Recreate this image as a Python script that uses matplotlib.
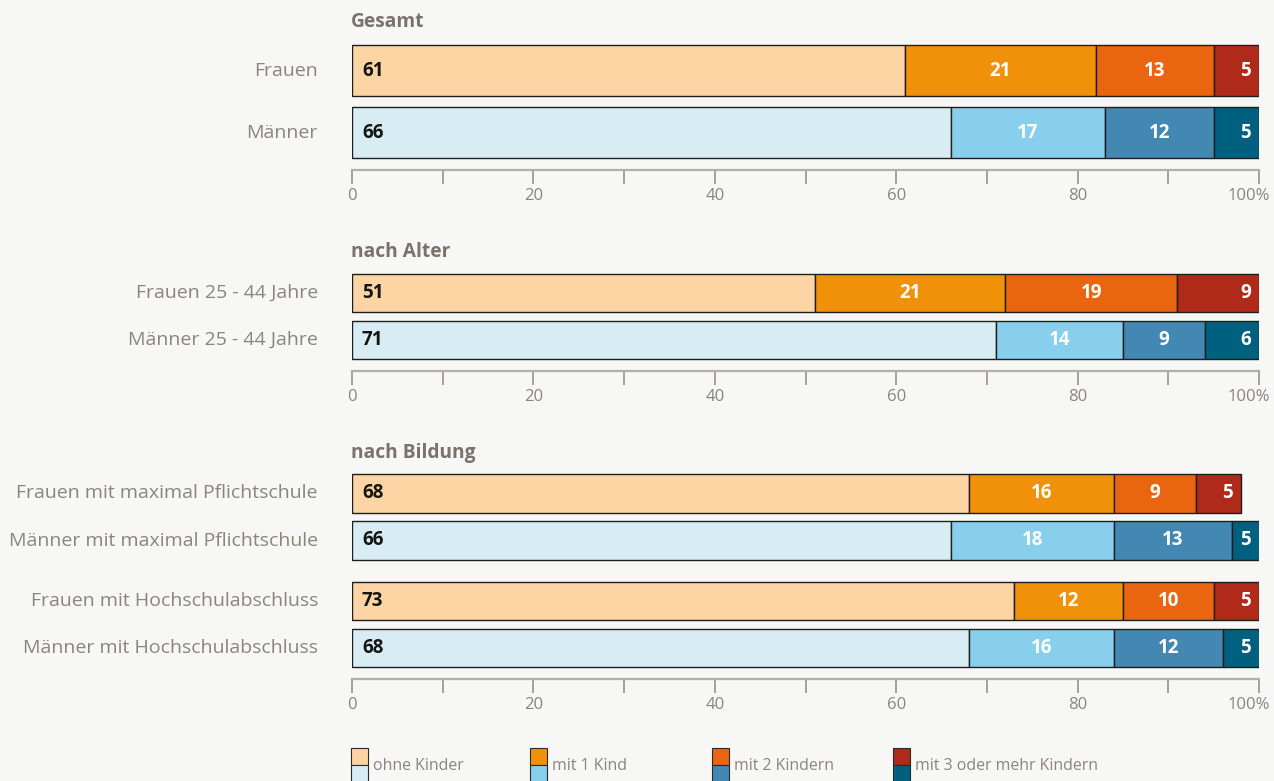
import matplotlib.pyplot as plt
from matplotlib.patches import Rectangle
from matplotlib.transforms import ScaledTranslation

plt.rcParams['font.family'] = ['Open Sans', 'DejaVu Sans']

# Anteile in % (ohne Kinder, mit 1 Kind, mit 2 Kindern, mit 3+ Kindern)
gesamt_labels = ["Frauen", "Männer"]
gesamt_values = [[61, 21, 13, 5],
                 [66, 17, 12, 5]]

alter_labels = ["Frauen 25 - 44 Jahre", "Männer 25 - 44 Jahre"]
alter_values = [[51, 21, 19, 9],
                [71, 14, 9, 6]]

bildung_labels = ["Frauen mit maximal Pflichtschule", "Männer mit maximal Pflichtschule",
                  "Frauen mit Hochschulabschluss", "Männer mit Hochschulabschluss"]
bildung_values = [[68, 16, 9, 5],
                  [66, 18, 13, 5],
                  [73, 12, 10, 5],
                  [68, 16, 12, 5]]

legend_labels = ["ohne Kinder", "mit 1 Kind", "mit 2 Kindern", "mit 3 oder mehr Kindern"]
ticks = [0, 20, 40, 60, 80, 100]
tick_labels = ["0", "20", "40", "60", "80", "100%"]

col_f = ["#fdd5a4", "#f19109", "#ea650f", "#af2a18"]
col_m = ["#d7edf3", "#88cfed", "#4387b3", "#00607f"]
bg = "#f7f7f5"
grey_txt = "#8c847d"
title_col = "#7a726b"

W, H = 1274, 781
fig = plt.figure(figsize=(W / 100, H / 100), dpi=100, facecolor=bg)

X0, X1 = 352, 1259


def fx(px):
    return px / W


def fy(py):
    return 1 - py / H


def panel(title, labels, values, top, spine, centers, height, title_y):
    ax = fig.add_axes([fx(X0), fy(spine), fx(X1 - X0), (spine - top) / H])
    ax.set_facecolor(bg)
    ax.set_xlim(0, 100)
    ax.set_ylim(spine, top)
    for i, (lab, vals) in enumerate(zip(labels, values)):
        cols = col_f if lab.startswith("Frauen") else col_m
        left = 0
        for j, v in enumerate(vals):
            ax.barh(centers[i], v, height=height, left=left, color=cols[j],
                    edgecolor="#1e1e1e", linewidth=1.0)
            if j == 0:
                ax.text(1.1, centers[i], str(v), ha="left", va="center",
                        fontsize=13.5, fontweight="bold", color="#151515")
            elif j == len(vals) - 1:
                # letzte Zahl rechtsbündig am Balkenende
                ax.text(min(99.1, left + v - 0.9), centers[i], str(v), ha="right",
                        va="center", fontsize=13.5, fontweight="bold", color="white")
            else:
                ax.text(left + v / 2, centers[i], str(v), ha="center", va="center",
                        fontsize=13.5, fontweight="bold", color="white")
            left += v
        fig.text(fx(318), fy(centers[i]), lab, ha="right", va="center",
                 fontsize=14, color=grey_txt)
    for s in ["top", "right", "left"]:
        ax.spines[s].set_visible(False)
    ax.spines["bottom"].set_color("#b3aeaa")
    ax.spines["bottom"].set_linewidth(1.6)
    ax.set_yticks([])
    ax.set_xticks(ticks)
    ax.set_xticklabels(tick_labels)
    ax.set_xticks([10, 30, 50, 70, 90], minor=True)
    ax.tick_params(axis="x", which="both", length=10, width=1.1, color="#8f8983",
                   labelcolor=grey_txt, labelsize=12, pad=3.5)
    last = ax.get_xticklabels()[-1]
    last.set_transform(last.get_transform() + ScaledTranslation(-10 / 100, 0, fig.dpi_scale_trans))
    fig.text(fx(351), fy(title_y), title, ha="left", va="center",
             fontsize=13.8, fontweight="bold", color=title_col)
    return ax


panel("Gesamt", gesamt_labels, gesamt_values, 40, 169.5, [70.5, 132.5], 51, 22)
panel("nach Alter", alter_labels, alter_values, 268, 370.5, [293, 340], 38.5, 252)
panel("nach Bildung", bildung_labels, bildung_values, 468, 678.5,
      [493.5, 540.5, 601, 648], 38.5, 453)

# Legende: obere Hälfte Frauen, untere Hälfte Männer
leg_x = [351, 530, 712, 893]
for k, lab in enumerate(legend_labels):
    x = leg_x[k]
    fig.patches.append(Rectangle((fx(x), fy(765)), 17 / W, 17 / H, transform=fig.transFigure,
                                 facecolor=col_f[k], edgecolor="#2a2a2a", linewidth=0.8))
    fig.patches.append(Rectangle((fx(x), fy(782)), 17 / W, 17 / H, transform=fig.transFigure,
                                 facecolor=col_m[k], edgecolor="#2a2a2a", linewidth=0.8))
    fig.text(fx(x + 22), fy(766), lab, ha="left", va="center", fontsize=11.4, color=grey_txt)

fig.savefig("out.png", dpi=100, facecolor=bg)
